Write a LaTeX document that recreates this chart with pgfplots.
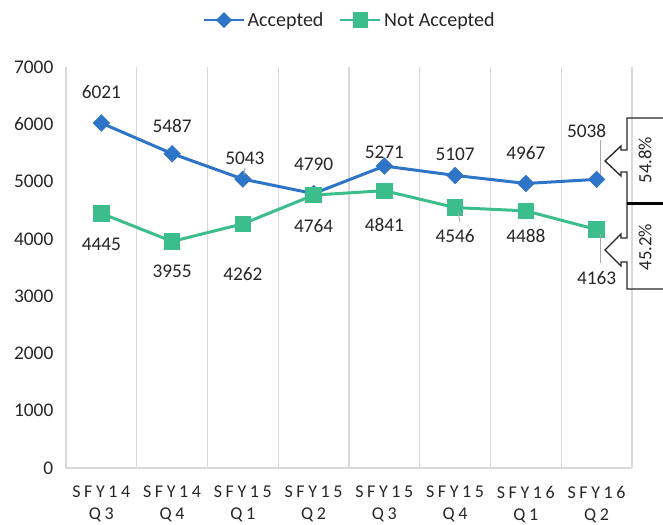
\documentclass[border=0pt]{standalone}
\usepackage{pgfplots}
\pgfplotsset{compat=1.18}
\usepackage{pgfplotstable}
\usepackage{fontspec}
\setmainfont{Carlito}
\definecolor{accblue}{RGB}{46,117,200}
\definecolor{nagreen}{RGB}{60,190,140}
\definecolor{gridgray}{RGB}{217,217,217}
\definecolor{leadgray}{RGB}{170,170,170}

% x, value, label shift up (px), label shift right (px)
\pgfplotstableread{
x y up dx
0 6021 31 0
1 5487 28 0
2 5043 21 2
3 4790 29 0
4 5271 14 0
5 5107 21 0
6 4967 30 0
7 5038 48 -10
}\acc
\pgfplotstableread{
x y up dx
0 4445 -31 0
1 3955 -30 0
2 4262 -50 0
3 4764 -31 0
4 4841 -34 0
5 4546 -28 0
6 4488 -25 0
7 4163 -49 0
}\notacc

\begin{document}
\begin{tikzpicture}
\useasboundingbox (0,0) rectangle (497.25pt,393pt);
\begin{axis}[
  at={(49.5pt,42pt)}, anchor=south west,
  scale only axis, width=424.5pt, height=300.75pt,
  xmin=-0.5, xmax=7.5, ymin=0, ymax=7000,
  clip=false,
  axis lines=left,
  axis line style={draw=gridgray,-, line width=0.8pt},
  xtick={0,...,7},
  xticklabels={{SFY14\\Q3},{SFY14\\Q4},{SFY15\\Q1},{SFY15\\Q2},{SFY15\\Q3},{SFY15\\Q4},{SFY16\\Q1},{SFY16\\Q2}},
  minor xtick={-0.5,0.5,...,7.5},
  xminorgrids,
  minor grid style={draw=gridgray, line width=0.8pt},
  major tick length=0pt, minor tick length=0pt,
  ytick={0,1000,...,7000},
  /pgf/number format/1000 sep={},
  /pgf/number format/assume math mode=true,
  yticklabel style={font=\fontsize{14.5}{17}\selectfont, text=black!85, xshift=-6pt},
  xticklabel style={font=\fontsize{13.5}{16.5}\selectfont\addfontfeatures{LetterSpace=20}, align=center, text=black!85, yshift=-10pt},
  legend columns=2,
  legend style={at={(0.502,1.117)}, anchor=center, draw=none, fill=none,
    font=\fontsize{15}{18}\selectfont, text=black!85,
    /tikz/every even column/.append style={column sep=10pt}},
  legend image code/.code={\draw[mark repeat=2,mark phase=2] plot coordinates {(0pt,0pt) (15pt,0pt) (30pt,0pt)};},
  legend image post style={line width=1.5pt},
]
\addplot[accblue, line width=2.25pt, mark=square*, mark size=3.5pt,
  mark options={fill=accblue, rotate=45},
  nodes near coords, point meta=explicit,
  visualization depends on={\thisrow{up} \as \up},
  visualization depends on={\thisrow{dx} \as \dx},
  every node near coord/.append style={anchor=center, yshift=\up*0.75pt, xshift=\dx*0.75pt,
    font=\fontsize{14.5}{17}\selectfont, text=black!85}]
  table[x=x, y=y, meta=y]{\acc};
\addlegendentry{Accepted}
\addplot[nagreen, line width=2.25pt, mark=square*, mark size=5pt,
  mark options={fill=nagreen},
  nodes near coords, point meta=explicit,
  visualization depends on={\thisrow{up} \as \up},
  visualization depends on={\thisrow{dx} \as \dx},
  every node near coord/.append style={anchor=center, yshift=\up*0.75pt, xshift=\dx*0.75pt,
    font=\fontsize{14.5}{17}\selectfont, text=black!85}]
  table[x=x, y=y, meta=y]{\notacc};
\addlegendentry{Not Accepted}
\end{axis}
\begin{scope}[x=0.75pt, y=-0.75pt, yshift=393pt]
  % leader lines
  \draw[leadgray, line width=0.7pt] (600,140) -- (600,175);
  \draw[leadgray, line width=0.7pt] (600,234) -- (600,263);
  \draw[leadgray, line width=0.7pt] (458,212) -- (460,222);
  \draw[leadgray, line width=0.7pt] (245,168) -- (244,175);
  % callouts
  \draw[black!85, line width=1pt] (663,118) -- (627,118) -- (627,150) -- (621,150) -- (621,146) -- (605,161)
     -- (621,176) -- (621,172) -- (627,172) -- (627,238) -- (621,238) -- (621,234) -- (605,250)
     -- (621,266) -- (621,262) -- (627,262) -- (627,289) -- (663,289);
  \draw[black, line width=1.8pt] (627,203.5) -- (663,203.5);
  \node[rotate=90, font=\fontsize{14}{16}\selectfont, text=black!85] at (645,160) {54.8\%};
  \node[rotate=90, font=\fontsize{14}{16}\selectfont, text=black!85] at (645,247) {45.2\%};
\end{scope}
\end{tikzpicture}
\end{document}
